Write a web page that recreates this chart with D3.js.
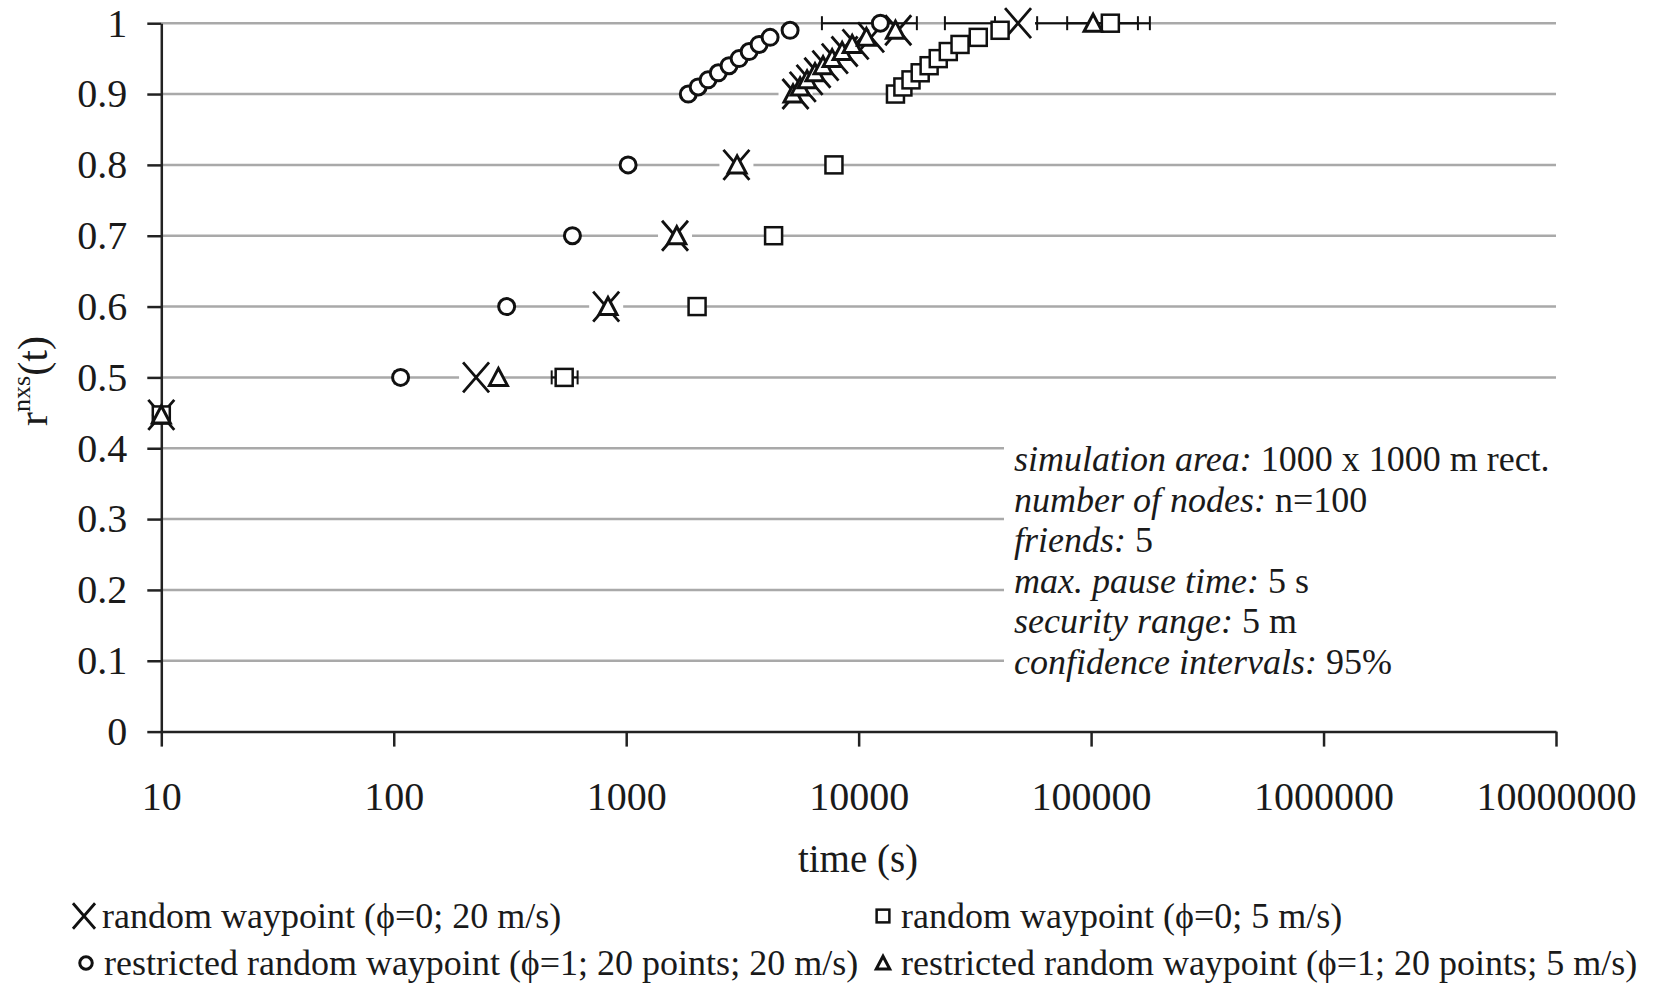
<!DOCTYPE html>
<html>
<head>
<meta charset="utf-8">
<script src="https://cdn.jsdelivr.net/npm/d3@7"></script>
<style>
  html, body { margin: 0; padding: 0; background: #fff; }
  svg { display: block; }
  text { font-family: "Liberation Serif", "Times New Roman", serif; fill: #1a1a1a; }
</style>
</head>
<body>
<div id="chart"></div>
<script>
// r^nxs(t) over time, four mobility models

const yLevels = [0.447, 0.5, 0.6, 0.7, 0.8, 0.9, 0.91, 0.92, 0.93, 0.94, 0.95, 0.96, 0.97, 0.98, 0.99, 1.0];

// time (s) at which each level is reached
const rwp20  = [10, 226, 820, 1622, 2980, 5350, 5750, 6150, 6650, 7200, 7900, 8700, 9700, 11300, 14800, 48500];
const rwp5   = [10, 541, 2018, 4306, 7830, 14400, 15500, 16800, 18400, 20100, 22000, 24300, 27300, 32700, 40600, 121000];
const rrwp20 = [10, 107, 306, 587, 1019, 1850, 2040, 2250, 2490, 2770, 3060, 3380, 3730, 4160, 5070, 12400];
const rrwp5  = [10, 282, 835, 1650, 3000, 5220, 5600, 6000, 6490, 7030, 7690, 8490, 9380, 10800, 14400, 102000];

// confidence intervals that are wider than the markers
const ciSeries = ["rrwp20", "rwp5", "rrwp20", "rwp20", "rrwp5", "rwp5"];
const ciLevel  = [0.5, 0.5, 1.0, 1.0, 1.0, 1.0];
const ciLow    = [101, 478, 6950, 38600, 23500, 78900];
const ciHigh   = [113, 618, 17800, 58600, 179000, 159000];

const xTicks = [10, 100, 1000, 10000, 100000, 1000000, 10000000];
const yTicks = [0, 0.1, 0.2, 0.3, 0.4, 0.5, 0.6, 0.7, 0.8, 0.9, 1];

const legendLabels = [
  "random waypoint (\u03D5=0; 20 m/s)",
  "random waypoint (\u03D5=0; 5 m/s)",
  "restricted random waypoint (\u03D5=1; 20 points; 20 m/s)",
  "restricted random waypoint (\u03D5=1; 20 points; 5 m/s)"
];

const noteLabels = ["simulation area:", "number of nodes:", "friends:", "max. pause time:", "security range:", "confidence intervals:"];
const noteValues = ["1000 x 1000 m rect.", "n=100", "5", "5 s", "5 m", "95%"];

const width = 1653, height = 986;

const svg = d3.select('#chart')
    .append('svg')
    .attr('width', width)
    .attr('height', height);

const x = d3.scaleLog().domain([10, 1e7]).range([161.3, 1556]);
const y = d3.scaleLinear().domain([0, 1]).range([731.6, 23.2]);

// gridlines
svg.append('g')
    .selectAll('line')
    .data(yTicks.filter(d => d > 0))
    .enter()
    .append('line')
    .attr('x1', x(10))
    .attr('x2', x(1e7))
    .attr('y1', d => y(d))
    .attr('y2', d => y(d))
    .attr('stroke', '#a9a9a9')
    .attr('stroke-width', 2.5);

// white box behind the notes
svg.append('rect')
    .attr('x', 1004).attr('y', 398)
    .attr('width', 560).attr('height', 300)
    .attr('fill', '#fff');

const notes = svg.append('g').attr('font-size', 36);
noteLabels.forEach((lab, i) => {
    const t = notes.append('text')
        .attr('x', 1014)
        .attr('y', 471 + i * 40.5);
    t.append('tspan').attr('font-style', 'italic').text(lab);
    t.append('tspan').text(' ' + noteValues[i]);
});

// axes
const yAxis = svg.append('g')
    .attr('transform', `translate(${x(10)},0)`)
    .call(d3.axisLeft(y).tickValues(yTicks).tickSize(14).tickSizeOuter(0).tickPadding(20).tickFormat(d3.format('.1~f')));

const xAxis = svg.append('g')
    .attr('transform', `translate(0,${y(0)})`)
    .call(d3.axisBottom(x).tickValues(xTicks).tickSize(15).tickSizeOuter(0).tickPadding(35).tickFormat(d3.format('d')));

[xAxis, yAxis].forEach(a => {
    a.select('.domain').attr('stroke', '#222').attr('stroke-width', 2.5);
    a.selectAll('.tick line').attr('stroke', '#222').attr('stroke-width', 2.5);
    a.selectAll('.tick text').attr('font-size', 40).attr('font-family', '"Liberation Serif", serif').attr('fill', '#1a1a1a');
});

// axis titles
svg.append('text')
    .attr('x', 858)
    .attr('y', 872)
    .attr('text-anchor', 'middle')
    .attr('font-size', 39)
    .text('time (s)');

const yTitle = svg.append('text')
    .attr('transform', 'translate(47,381) rotate(-90)')
    .attr('text-anchor', 'middle')
    .attr('font-size', 42);
yTitle.append('tspan').text('r');
yTitle.append('tspan').attr('font-size', 26).attr('dy', -17).text('nxs');
yTitle.append('tspan').attr('dy', 17).text('(t)');

// markers
function markX(g, s) {
    g.append('path')
        .attr('d', `M${-13 * s},${-15 * s}L${13 * s},${15 * s}M${13 * s},${-15 * s}L${-13 * s},${15 * s}`)
        .attr('fill', 'none').attr('stroke', '#111').attr('stroke-width', 2.8);
}
function markCircle(g, s) {
    g.append('circle').attr('r', 8 * s)
        .attr('fill', '#fff').attr('stroke', '#111').attr('stroke-width', 3);
}
function markSquare(g, s) {
    g.append('rect').attr('x', -8.5 * s).attr('y', -8.5 * s).attr('width', 17 * s).attr('height', 17 * s)
        .attr('fill', '#fff').attr('stroke', '#111').attr('stroke-width', 2.5);
}
function markTriangle(g, s) {
    g.append('path').attr('d', `M0,${-9 * s}L${9 * s},${8 * s}L${-9 * s},${8 * s}Z`)
        .attr('fill', '#fff').attr('stroke', '#111').attr('stroke-width', 3);
}

const series = {
    rwp20:  {values: rwp20, mark: markX},
    rwp5:   {values: rwp5, mark: markSquare},
    rrwp20: {values: rrwp20, mark: markCircle},
    rrwp5:  {values: rrwp5, mark: markTriangle}
};

// error bars
const ci = ciLow.map((lo, i) => ({lo: lo, hi: ciHigh[i], level: ciLevel[i], s: ciSeries[i]}));
const bars = svg.append('g').attr('stroke', '#111').attr('stroke-width', 2);
bars.selectAll('line.bar')
    .data(ci).enter().append('line').attr('class', 'bar')
    .attr('x1', d => x(d.lo)).attr('x2', d => x(d.hi))
    .attr('y1', d => y(d.level)).attr('y2', d => y(d.level));
bars.selectAll('line.capl')
    .data(ci).enter().append('line').attr('class', 'capl')
    .attr('x1', d => x(d.lo)).attr('x2', d => x(d.lo))
    .attr('y1', d => y(d.level) - 7).attr('y2', d => y(d.level) + 7);
bars.selectAll('line.caph')
    .data(ci).enter().append('line').attr('class', 'caph')
    .attr('x1', d => x(d.hi)).attr('x2', d => x(d.hi))
    .attr('y1', d => y(d.level) - 7).attr('y2', d => y(d.level) + 7);

// X markers knock out the gridline behind them
svg.append('g')
    .selectAll('rect')
    .data(rwp20)
    .enter()
    .append('rect')
    .attr('x', d => x(d) - 17)
    .attr('y', (d, i) => y(yLevels[i]) - 5)
    .attr('width', 34).attr('height', 10)
    .attr('fill', '#fff');

['rwp20', 'rrwp20', 'rwp5', 'rrwp5'].forEach(key => {
    const sr = series[key];
    svg.append('g')
        .selectAll('g')
        .data(sr.values)
        .enter()
        .append('g')
        .attr('transform', (d, i) => `translate(${x(d)},${y(yLevels[i])})`)
        .each(function() { sr.mark(d3.select(this), 1); });
});

// legend
const legendX = [84, 883, 86, 883];
const legendY = [916, 916, 963, 963];
const legendTextX = [102, 901, 104, 901];
const legendMarks = [markX, markSquare, markCircle, markTriangle];
const legendScale = [0.85, 0.75, 0.78, 0.75];

legendLabels.forEach((lab, i) => {
    const g = svg.append('g').attr('transform', `translate(${legendX[i]},${legendY[i]})`);
    legendMarks[i](g, legendScale[i]);
    svg.append('text')
        .attr('x', legendTextX[i])
        .attr('y', legendY[i] + 12)
        .attr('font-size', 36)
        .text(lab);
});
</script>
</body>
</html>
